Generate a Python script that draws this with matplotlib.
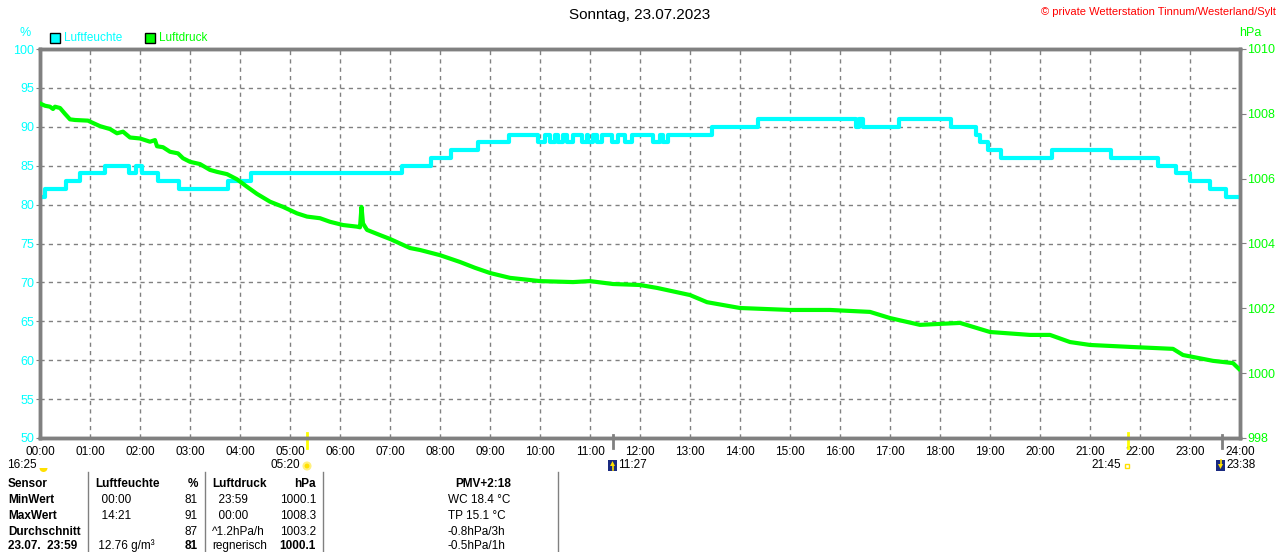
import matplotlib
matplotlib.use("Agg")
import matplotlib.pyplot as plt
import matplotlib.transforms as mtransforms
from matplotlib.patches import Rectangle, Wedge, Circle, Polygon

plt.rcParams['font.family'] = ['Liberation Sans', 'DejaVu Sans']

# ---------------------------------------------------------------------------
# daten (zeit in stunden)
# luftfeuchte in % (stufen)
feuchte_zeit = [0.0, 0.1, 0.52, 0.8, 1.3, 1.78, 1.92, 2.04, 2.36, 2.78, 3.76, 4.22,
                7.24, 7.82, 8.22, 8.76, 9.38,
                9.96, 10.1, 10.2, 10.3, 10.36, 10.46, 10.54, 10.66, 10.84, 10.94,
                10.96, 11.06, 11.14, 11.24, 11.44, 11.56, 11.7, 11.84,
                12.26, 12.4, 12.46, 12.56,
                13.44, 14.36, 16.32, 16.38, 16.46, 17.18, 18.22, 18.72, 18.8,
                18.96, 19.22, 20.24, 21.42, 22.36, 22.72, 23.0, 23.4, 23.72, 23.98]
feuchte_wert = [81, 82, 83, 84, 85, 84, 85, 84, 83, 82, 83, 84,
                85, 86, 87, 88, 89,
                88, 89, 88, 89, 88, 89, 88, 89, 88, 89,
                88, 89, 88, 89, 88, 89, 88, 89,
                88, 89, 88, 89,
                90, 91, 90, 91, 90, 91, 90, 89, 88,
                87, 86, 87, 86, 85, 84, 83, 82, 81, 81]

# luftdruck in hPa
druck_zeit = [0.0, 0.1, 0.2, 0.26, 0.3, 0.4, 0.5, 0.6, 0.7, 0.96, 1.0, 1.2, 1.4,
              1.54, 1.66, 1.8, 2.0, 2.2, 2.3, 2.34, 2.46, 2.6, 2.76, 2.86, 3.0,
              3.2, 3.4, 3.54, 3.74, 3.94, 4.14, 4.34, 4.6, 4.86, 5.14, 5.34, 5.6,
              5.8, 6.06, 6.34, 6.40, 6.43, 6.46, 6.54, 6.8, 7.0, 7.4, 7.6, 8.0,
              8.4, 8.7, 9.0, 9.4, 10.0, 10.66, 11.0, 11.46, 12.0, 12.34, 13.0,
              13.34, 14.0, 15.0, 15.8, 16.6, 17.0, 17.6, 18.4, 19.0, 19.8, 20.2,
              20.6, 21.0, 21.8, 22.66, 22.86, 23.46, 23.86, 23.98]
druck_wert = [1008.32, 1008.25, 1008.22, 1008.15, 1008.22, 1008.18, 1008.0, 1007.83,
              1007.81, 1007.79, 1007.76, 1007.62, 1007.53, 1007.40, 1007.45, 1007.27,
              1007.24, 1007.14, 1007.19, 1007.00, 1006.97, 1006.83, 1006.78, 1006.63,
              1006.52, 1006.45, 1006.27, 1006.21, 1006.14, 1005.98, 1005.75, 1005.53,
              1005.29, 1005.13, 1004.93, 1004.83, 1004.78, 1004.67, 1004.57, 1004.52,
              1004.50, 1005.13, 1004.62, 1004.42, 1004.26, 1004.14, 1003.86, 1003.80,
              1003.64, 1003.43, 1003.25, 1003.09, 1002.94, 1002.84, 1002.81, 1002.84,
              1002.75, 1002.72, 1002.63, 1002.41, 1002.19, 1002.01, 1001.95, 1001.95,
              1001.89, 1001.70, 1001.49, 1001.55, 1001.27, 1001.18, 1001.18, 1000.96,
              1000.87, 1000.81, 1000.75, 1000.56, 1000.38, 1000.31, 1000.13]

stunden = list(range(0, 25))
stunden_labels = ["%02d:00" % h for h in stunden]
feuchte_ticks = [50, 55, 60, 65, 70, 75, 80, 85, 90, 95, 100]
druck_ticks = [998, 1000, 1002, 1004, 1006, 1008, 1010]

# sonne / mond
sonnenaufgang = 5 + 20 / 60.0
sonnenuntergang = 21 + 45 / 60.0
mondaufgang = 11 + 27 / 60.0
monduntergang = 23 + 38 / 60.0

tabelle = [
    ["Sensor", "Luftfeuchte", "%", "Luftdruck", "hPa", "PMV+2:18"],
    ["MinWert", "  00:00", "81", "  23:59", "1000.1", "WC 18.4 °C"],
    ["MaxWert", "  14:21", "91", "  00:00", "1008.3", "TP 15.1 °C"],
    ["Durchschnitt", "", "87", "^1.2hPa/h", "1003.2", "-0.8hPa/3h"],
    ["23.07.  23:59", " 12.76 g/m³", "81", "regnerisch", "1000.1", "-0.5hPa/1h"],
]

CYAN = "#00FFFF"
GRUEN = "#00FF00"
GRAU = "#808080"

# ---------------------------------------------------------------------------
fig = plt.figure(figsize=(12.8, 5.52), dpi=100)
ax = fig.add_axes([40 / 1280, 1 - 438 / 552, 1200 / 1280, 389 / 552])
ax2 = ax.twinx()

ax.set_xlim(0, 24)
ax.set_ylim(50, 100)
ax2.set_ylim(998, 1010)

ax.set_xticks(stunden)
ax.set_xticklabels(stunden_labels, fontsize=8.5)
ax.set_yticks(feuchte_ticks)
ax.set_yticklabels([str(v) for v in feuchte_ticks], fontsize=9, color=CYAN)
ax2.set_yticks(druck_ticks)
ax2.set_yticklabels([str(v) for v in druck_ticks], fontsize=9, color=GRUEN)

ax.tick_params(axis='x', length=0, pad=6)
ax.tick_params(axis='y', length=3, color=GRAU, pad=1)
ax2.tick_params(axis='y', length=4, color=GRAU, pad=1)

ax.grid(True, color=GRAU, linestyle=(0, (3, 3)), linewidth=1)
for a in (ax, ax2):
    for s in a.spines.values():
        s.set_color(GRAU)
        s.set_linewidth(2.5)

ax.plot(feuchte_zeit, feuchte_wert, drawstyle='steps-post', color=CYAN, lw=3, zorder=3)
ax2.plot(druck_zeit, druck_wert, color=GRUEN, lw=3, zorder=3)

# striche fuer sonne und mond unter der achse
trans = mtransforms.blended_transform_factory(ax.transData, ax.transAxes)
for t in (sonnenaufgang, sonnenuntergang):
    ax.plot([t, t], [-0.025, 0.013], color="#FFFF00", lw=2, transform=trans, clip_on=False)
for t in (mondaufgang, monduntergang):
    ax.plot([t, t], [-0.025, 0.008], color=GRAU, lw=2, transform=trans, clip_on=False)

# ---------------------------------------------------------------------------
# overlay in pixelkoordinaten fuer texte, legende und tabelle
ov = fig.add_axes([0, 0, 1, 1], zorder=-1)
ov.set_xlim(0, 1280)
ov.set_ylim(552, 0)
ov.axis('off')

ov.text(640, 15, "Sonntag, 23.07.2023", ha='center', va='center', fontsize=11)
ov.text(1276, 12, "© private Wetterstation Tinnum/Westerland/Sylt", ha='right',
        va='center', fontsize=8, color="red")
ov.text(25, 33, "%", ha='center', va='center', fontsize=9, color=CYAN)
ov.text(1250, 33, "hPa", ha='center', va='center', fontsize=9, color=GRUEN)

ov.add_patch(Rectangle((50, 33), 10, 10, facecolor=CYAN, edgecolor='black', lw=1))
ov.text(64, 38, "Luftfeuchte", va='center', fontsize=8.5, color=CYAN)
ov.add_patch(Rectangle((145, 33), 10, 10, facecolor=GRUEN, edgecolor='black', lw=1))
ov.text(159, 38, "Luftdruck", va='center', fontsize=8.5, color=GRUEN)

# zeiten sonne / mond
zy = 465
ov.text(37, zy, "16:25", ha='right', va='center', fontsize=8.5)
ov.add_patch(Wedge((43.5, zy + 3), 4, 0, 180, facecolor="#FFE000", edgecolor="none"))
ov.text(300, zy, "05:20", ha='right', va='center', fontsize=8.5)
ov.add_patch(Circle((307, zy + 1), 3.5, facecolor="#FFE000", edgecolor="#FFF080", lw=1.5))
ov.add_patch(Rectangle((608, zy - 5), 9, 11, facecolor="#1A2A80", edgecolor="none"))
ov.add_patch(Polygon([(612.5, zy - 4), (610, zy + 1), (615, zy + 1)], facecolor="#FFE000"))
ov.plot([612.5, 612.5], [zy, zy + 5], color="#FFE000", lw=1.2)
ov.text(618, zy, "11:27", ha='left', va='center', fontsize=8.5)
ov.text(1121, zy, "21:45", ha='right', va='center', fontsize=8.5)
ov.add_patch(Rectangle((1125, zy - 1), 4, 4, facecolor="none", edgecolor="#FFE000", lw=1))
ov.add_patch(Rectangle((1216, zy - 5), 9, 11, facecolor="#1A2A80", edgecolor="none"))
ov.add_patch(Polygon([(1220.5, zy + 4), (1218, zy - 1), (1223, zy - 1)], facecolor="#FFE000"))
ov.plot([1220.5, 1220.5], [zy - 5, zy], color="#FFE000", lw=1.2)
ov.text(1226, zy, "23:38", ha='left', va='center', fontsize=8.5)

# tabelle
for x in (88, 205, 323, 558):
    ov.plot([x, x], [472, 552], color=GRAU, lw=1)
zeilen_y = [484, 500, 516, 532, 546]
for i, zeile in enumerate(tabelle):
    y = zeilen_y[i]
    fett = 'bold' if i == 0 else 'normal'
    fett_wert = 'bold' if i in (0, 4) else 'normal'
    ov.text(8, y, zeile[0], va='center', fontsize=8.5, fontweight='bold')
    ov.text(95, y, zeile[1], va='center', fontsize=8.5, fontweight=fett)
    ov.text(198, y, zeile[2], va='center', ha='right', fontsize=8.5, fontweight=fett_wert)
    ov.text(212, y, zeile[3], va='center', fontsize=8.5, fontweight=fett)
    ov.text(316, y, zeile[4], va='center', ha='right', fontsize=8.5, fontweight=fett_wert)
    if i == 0:
        ov.text(483, y, zeile[5], va='center', ha='center', fontsize=8.5, fontweight='bold')
    else:
        ov.text(448, y, zeile[5], va='center', fontsize=8.5)

fig.savefig("out.png", dpi=100)
